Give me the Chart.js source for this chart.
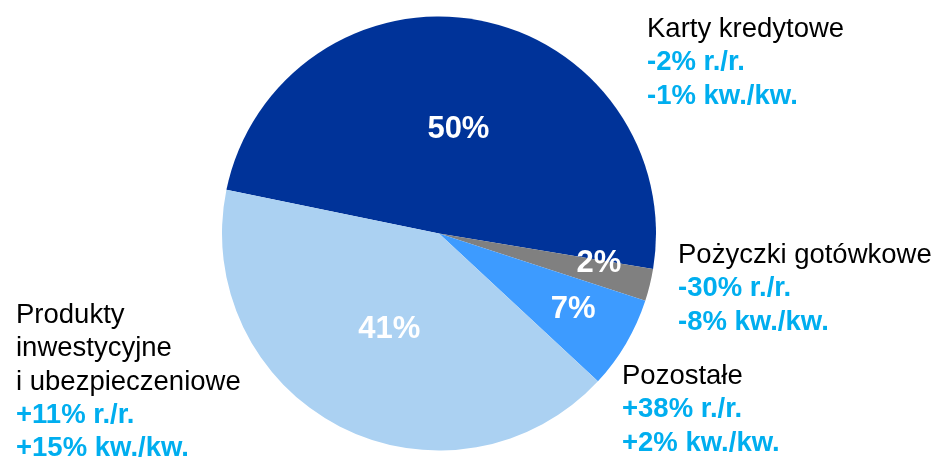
<!DOCTYPE html>
<html>
<head>
<meta charset="utf-8">
<style>
  html, body { margin: 0; padding: 0; background: #fff; }
  #wrap { width: 940px; height: 461px; position: relative; }
</style>
<script src="https://cdn.jsdelivr.net/npm/chart.js@4"></script>
</head>
<body>
<div id="wrap"><canvas id="udzial"></canvas></div>
<script>
// udziały segmentów (w %)
const kategorie = ["Karty kredytowe", "Pożyczki gotówkowe", "Pozostałe", "Produkty inwestycyjne i ubezpieczeniowe"];
const udzialy = [49.4, 2.4, 6.9, 41.3];
const etykietyProc = ["50%", "2%", "7%", "41%"];
const zmianaRR = ["-2% r./r.", "-30% r./r.", "+38% r./r.", "+11% r./r."];
const zmianaKwKw = ["-1% kw./kw.", "-8% kw./kw.", "+2% kw./kw.", "+15% kw./kw."];
const kolory = ["#003399", "#808080", "#3d9bff", "#abd1f2"];

const FONT = "'Liberation Sans', Arial, sans-serif";

// gdzie leży etykieta procentowa w wycinku: [ułamek kąta, ułamek promienia]
const pozEtykiet = [[0.5, 0.49], [0.15, 0.75], [0.46, 0.71], [0.5, 0.5]];

// opisy poza kołem: nazwa (może być w kilku liniach), x, y pierwszej linii bazowej
const opisy = [
    { nazwa: ["Karty kredytowe"], x: 647, y: 37 },
    { nazwa: ["Pożyczki gotówkowe"], x: 678, y: 263 },
    { nazwa: ["Pozostałe"], x: 622, y: 384 },
    { nazwa: ["Produkty", "inwestycyjne", "i ubezpieczeniowe"], x: 16, y: 323 }
];
const LINIA = 33.3;

const etykietyPlugin = {
    id: "etykiety",
    afterDatasetsDraw(chart) {
        const ctx = chart.ctx;
        const meta = chart.getDatasetMeta(0);
        ctx.save();
        ctx.textAlign = "center";
        ctx.textBaseline = "middle";
        ctx.fillStyle = "#fff";
        ctx.font = "bold 31px " + FONT;
        meta.data.forEach((arc, i) => {
            const p = arc.getProps(["x", "y", "startAngle", "endAngle", "outerRadius"], true);
            const [fa, fr] = pozEtykiet[i];
            const kat = p.startAngle + (p.endAngle - p.startAngle) * fa;
            const r = p.outerRadius * fr;
            ctx.fillText(etykietyProc[i], p.x + Math.cos(kat) * r, p.y + Math.sin(kat) * r);
        });

        // opisy z boku
        ctx.textAlign = "left";
        ctx.textBaseline = "alphabetic";
        opisy.forEach((o, i) => {
            let y = o.y;
            ctx.fillStyle = "#000";
            ctx.font = "27.5px " + FONT;
            o.nazwa.forEach(l => { ctx.fillText(l, o.x, y); y += LINIA; });
            ctx.fillStyle = "#00aeef";
            ctx.font = "bold 27.5px " + FONT;
            ctx.fillText(zmianaRR[i], o.x, y); y += LINIA;
            ctx.fillText(zmianaKwKw[i], o.x, y);
        });
        ctx.restore();
    }
};

new Chart(document.getElementById("udzial"), {
    type: "pie",
    data: {
        labels: kategorie,
        datasets: [{
            data: udzialy,
            backgroundColor: kolory,
            borderWidth: 0
        }]
    },
    options: {
        responsive: true,
        maintainAspectRatio: false,
        animation: false,
        rotation: -78.4,
        layout: { padding: { left: 222, right: 284, top: 16, bottom: 10 } },
        plugins: {
            legend: { display: false },
            tooltip: { enabled: false }
        }
    },
    plugins: [etykietyPlugin]
});
</script>
</body>
</html>
